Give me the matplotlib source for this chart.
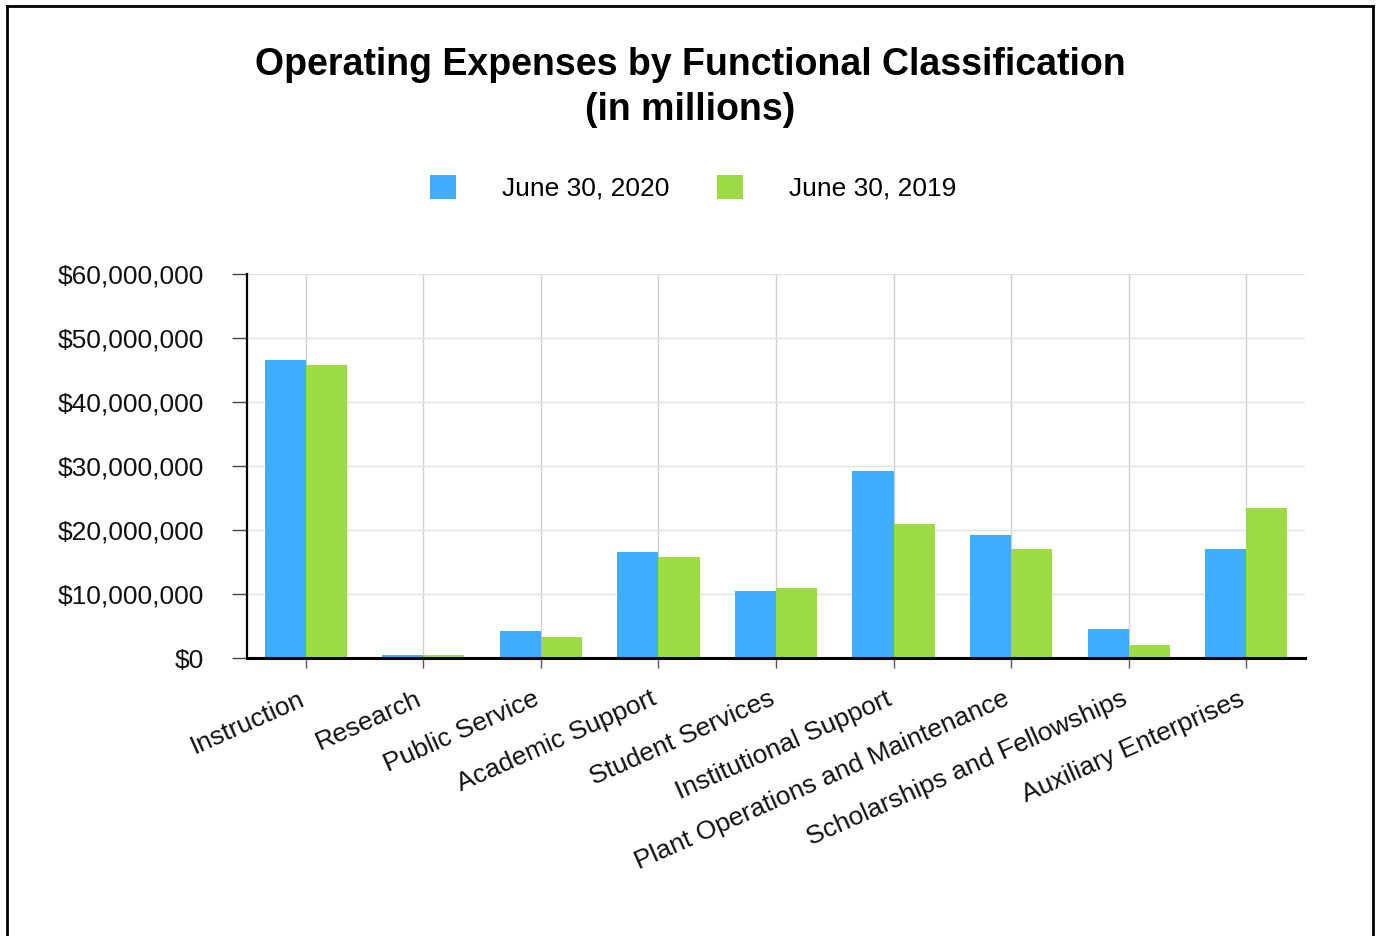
import matplotlib
matplotlib.use('Agg')
import matplotlib.pyplot as plt
from matplotlib.transforms import ScaledTranslation
from matplotlib.lines import Line2D
from matplotlib.patches import Patch
import numpy as np

categories = ['Instruction', 'Research', 'Public Service', 'Academic Support',
              'Student Services', 'Institutional Support',
              'Plant Operations and Maintenance', 'Scholarships and Fellowships',
              'Auxiliary Enterprises']
values_2020 = [46.55e6, 0.4e6, 4.15e6, 16.6e6, 10.45e6, 29.25e6, 19.2e6, 4.55e6, 17.1e6]
values_2019 = [45.8e6, 0.5e6, 3.35e6, 15.8e6, 11.0e6, 21.0e6, 17.0e6, 2.1e6, 23.5e6]
series_labels = ['June 30, 2020', 'June 30, 2019']
y_ticks = [0, 10e6, 20e6, 30e6, 40e6, 50e6, 60e6]
title = 'Operating Expenses by Functional Classification\n(in millions)'

blue = '#3FAEFE'
green = '#9CDA46'

plt.rcParams['font.family'] = ['Liberation Sans', 'DejaVu Sans']

W, H = 1376, 936
fig = plt.figure(figsize=(W / 100, H / 100), dpi=100)
ax = fig.add_axes([247 / W, 1 - 658 / H, (1305 - 247) / W, (658 - 274) / H])

x = np.arange(len(categories))
w = 0.35
ax.bar(x - w / 2, values_2020, w, color=blue, label=series_labels[0], linewidth=0)
ax.bar(x + w / 2, values_2019, w, color=green, label=series_labels[1], linewidth=0)

ax.set_xlim(-0.5, len(categories) - 0.5)
ax.set_ylim(0, 60e6)
ax.set_yticks(y_ticks)
ax.set_yticklabels([f"${v:,.0f}" for v in y_ticks], fontsize=19, color='#111')
ax.set_xticks(x)
ax.set_xticklabels(categories, rotation=24, ha='right', va='baseline',
                   rotation_mode='anchor', fontsize=19, color='#111')
off = ScaledTranslation(-4 / 100, 0, fig.dpi_scale_trans)
for lab in ax.get_xticklabels():
    lab.set_transform(lab.get_transform() + off)

ax.tick_params(axis='x', length=7.2, width=1, color='#555', pad=26)
ax.tick_params(axis='y', length=10.8, width=1, color='#444', pad=20)
ax.grid(True, axis='y', color='#e2e2e2', lw=1)
ax.grid(True, axis='x', color='#d0d0d0', lw=1)
ax.set_axisbelow(True)
for s in ['top', 'right']:
    ax.spines[s].set_visible(False)
ax.spines['left'].set_linewidth(1.6)
ax.spines['left'].set_color('black')
ax.spines['bottom'].set_linewidth(2.2)
ax.spines['bottom'].set_color('black')
ax.spines['left'].set_zorder(5)
ax.spines['bottom'].set_zorder(5)

fig.text(690 / W, 1 - 87.5 / H, title, ha='center', va='center',
         fontsize=27, fontweight='bold', linespacing=1.33)

handles = [Patch(facecolor=blue), Patch(facecolor=green)]
fig.legend(handles=handles, labels=series_labels, loc='center',
           bbox_to_anchor=(693 / W, 1 - 188 / H), ncol=2, frameon=False,
           fontsize=19, handlelength=1.0, handleheight=1.0,
           handletextpad=1.74, columnspacing=1.8)

# outer border
bw = 2.0
fig.add_artist(Line2D([7 / W, 7 / W], [0, 1 - 6 / H], transform=fig.transFigure, color='black', lw=bw))
fig.add_artist(Line2D([1373 / W, 1373 / W], [0, 1 - 6 / H], transform=fig.transFigure, color='black', lw=bw))
fig.add_artist(Line2D([7 / W, 1373 / W], [1 - 6 / H, 1 - 6 / H], transform=fig.transFigure, color='black', lw=bw))

fig.savefig('out.png', dpi=100)
